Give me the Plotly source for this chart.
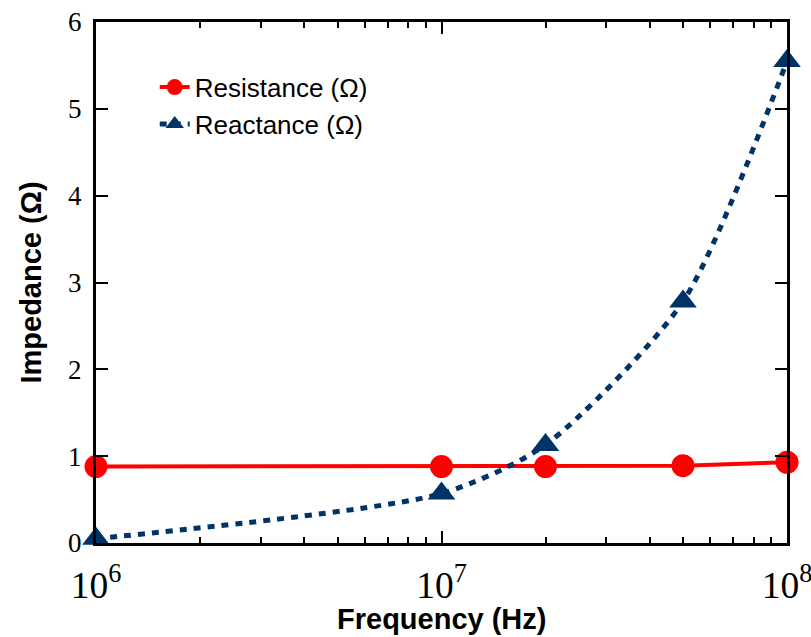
import plotly.graph_objects as go

freq = [1e6, 1e7, 2e7, 5e7, 1e8]
resistance = [0.88, 0.88, 0.88, 0.89, 0.93]
reactance = [0.05, 0.57, 1.13, 2.78, 5.55]

RED = "#FF0000"
NAVY = "#003366"

fig = go.Figure()
fig.add_trace(go.Scatter(
    x=freq, y=resistance, mode="lines+markers", name="Resistance (Ω)",
    line=dict(color=RED, width=4),
    marker=dict(symbol="circle", size=23, color=RED),
    cliponaxis=False,
))
fig.add_trace(go.Scatter(
    x=freq, y=reactance, mode="lines+markers", name="Reactance (Ω)",
    line=dict(color=NAVY, width=5, dash="7px,7px", shape="spline", smoothing=0.7),
    marker=dict(symbol="triangle-up", size=24, color=NAVY),
    cliponaxis=False,
))

axis_common = dict(
    showline=True, linecolor="black", linewidth=3, mirror="ticks",
    ticks="inside", tickcolor="black", tickwidth=2, ticklen=12,
    showgrid=False, zeroline=False, automargin=False,
)

fig.update_xaxes(
    type="log", range=[5.99999, 8.00001], dtick=1, exponentformat="power",
    minor=dict(ticks="inside", ticklen=6, tickwidth=2, tickcolor="black", showgrid=False),
    tickfont=dict(family="Liberation Serif", size=30, color="black"),
    ticklabelstandoff=8, ticklabeloverflow="allow",
    **axis_common,
)
fig.update_yaxes(
    range=[0, 6], dtick=1,
    tickfont=dict(family="Liberation Serif", size=27, color="black"),
    ticklabelstandoff=6,
    title=dict(text="<b>Impedance (Ω)</b>", font=dict(family="Liberation Sans", size=29, color="black"), standoff=18),
    **axis_common,
)

fig.add_annotation(
    text="<b>Frequency (Hz)</b>", xref="paper", yref="paper", x=0.5, y=-0.145,
    xanchor="center", yanchor="middle", showarrow=False,
    font=dict(family="Liberation Sans", size=29, color="black"),
)

fig.update_layout(
    width=811, height=637,
    margin=dict(l=96, r=24, t=22, b=94),
    plot_bgcolor="white", paper_bgcolor="white",
    legend=dict(x=0.085, y=0.92, xanchor="left", yanchor="top",
                font=dict(family="Liberation Sans", size=26, color="black"),
                bgcolor="rgba(0,0,0,0)", tracegroupgap=0),
    showlegend=True,
)

fig.write_html("out.html")
